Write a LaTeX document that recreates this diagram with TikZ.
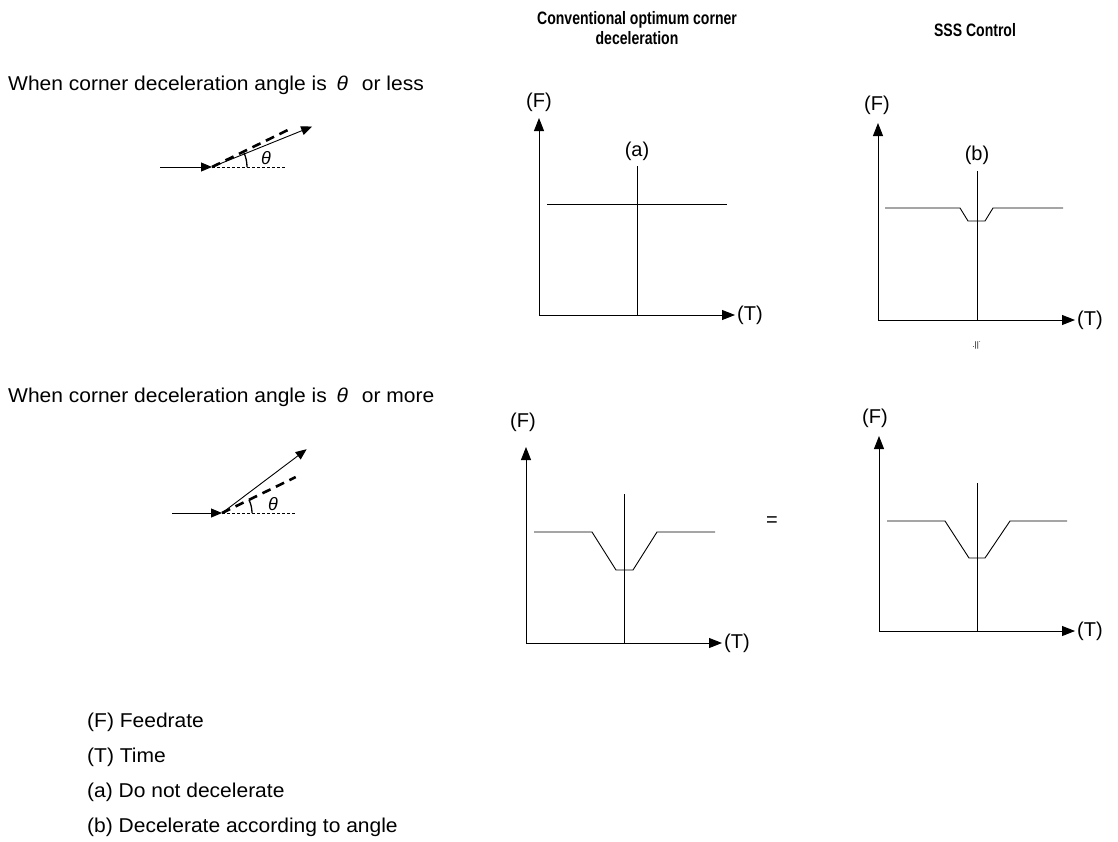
\documentclass[tikz,border=0pt]{standalone}
\usepackage{fontspec}
\setmainfont{Liberation Sans}
\newfontfamily\headfont[FakeStretch=0.78]{Liberation Sans}
\newfontfamily\bodyfont[FakeStretch=1.05]{Liberation Sans}
\usetikzlibrary{positioning,arrows.meta}

\begin{document}
\begin{tikzpicture}[
    x=1pt, y=-1pt,
    txt/.style={font=\bodyfont\fontsize{20}{22}\selectfont, inner sep=0pt, anchor=west},
    head/.style={font=\headfont\bfseries\fontsize{18}{20}\selectfont, align=center, inner sep=0pt},
    lbl/.style={font=\fontsize{20}{22}\selectfont, inner sep=0pt},
    ang/.style={font=\itshape\fontsize{18}{20}\selectfont, inner sep=0pt},
    thinline/.style={line width=0.9pt},
    axis/.style={-{Triangle[length=13pt,width=10pt]}, line width=0.9pt},
    arr/.style={-{Triangle[length=11pt,width=9pt]}, line width=0.9pt},
    refline/.style={dashed, dash pattern=on 3pt off 2pt, line width=0.8pt},
    limit/.style={line width=2.6pt, dash pattern=on 9pt off 6pt}
]
\useasboundingbox (0,0) rectangle (1118,841);

% column headers
\node[head] (hconv) at (637,28) {Conventional optimum corner\\deceleration};
\node[head] (hsss) at (975,30) {SSS Control};

% row 1: angle theta or less
\node[txt] (row1) at (8,85) {When corner deceleration angle is\hspace{4pt} {\itshape θ}\hspace{8pt} or less};
\coordinate (c1) at (212,167);
\coordinate (in1) at (160,167);
\draw[arr] (in1) -- (c1);
\draw[refline] (c1) -- ++(73,0) coordinate (h1);
\draw[limit] (c1) -- ++(-26:84) coordinate (d1);
\draw[arr] (c1) -- ++(-22:108) coordinate (s1);
\draw[thinline, line width=1.3pt] (c1) ++(35,0) arc[start angle=0, end angle=-24, radius=35];
\node[ang] (th1) at (266,158) {θ};

% graph (a)
\coordinate (o1) at (539,315);
\draw[axis] (o1) -- (539,118) coordinate (f1);
\draw[axis] (o1) -- (735,315) coordinate (t1);
\node[lbl] (F1) at (539,102) {(F)};
\node[lbl, anchor=west] (T1) at (737,315) {(T)};
\coordinate (m1) at (637,166);
\draw[thinline] (m1) -- (m1 |- o1);
\node[lbl] (a1) at (637,151) {(a)};
\draw[thinline] (547,204) -- (727,204);

% graph (b)
\coordinate (o2) at (878,320);
\draw[axis] (o2) -- (878,123) coordinate (f2);
\draw[axis] (o2) -- (1075,320) coordinate (t2);
\node[lbl] (F2) at (877,105) {(F)};
\node[lbl, anchor=west] (T2) at (1077,320) {(T)};
\coordinate (m2) at (977,171);
\draw[thinline] (m2) -- (m2 |- o2);
\node[lbl] (b2) at (977,155) {(b)};
\draw[thinline] (885,208) -- (960,208) -- (968,221) -- (985,221) -- (993,208) -- (1063,208);
\node[font=\fontsize{8}{8}\selectfont, inner sep=0pt] (mark) at (977,345) {.||˙};

% row 2: angle theta or more
\node[txt] (row2) at (8,397) {When corner deceleration angle is\hspace{4pt} {\itshape θ}\hspace{8pt} or more};
\coordinate (c2) at (222,513);
\coordinate (in2) at (172,513);
\draw[arr] (in2) -- (c2);
\draw[refline] (c2) -- ++(73,0) coordinate (h2);
\draw[limit] (c2) -- ++(-26:82) coordinate (d2);
\draw[arr] (c2) -- ++(-37:106) coordinate (s2);
\draw[thinline, line width=1.3pt] (c2) ++(30,0) arc[start angle=0, end angle=-26, radius=30];
\node[ang] (th2) at (273,504) {θ};

% graph conventional, large angle
\coordinate (o3) at (526,643);
\draw[axis] (o3) -- (526,447) coordinate (f3);
\draw[axis] (o3) -- (722,643) coordinate (t3);
\node[lbl] (F3) at (523,422) {(F)};
\node[lbl, anchor=west] (T3) at (724,643) {(T)};
\coordinate (m3) at (624,494);
\draw[thinline] (m3) -- (m3 |- o3);
\draw[thinline] (534,532) -- (592,532) -- (616,570) -- (633,570) -- (657,532) -- (715,532);
\node[lbl] (eq) at (772,522) {=};

% graph SSS, large angle
\coordinate (o4) at (879,631);
\draw[axis] (o4) -- (879,436) coordinate (f4);
\draw[axis] (o4) -- (1075,631) coordinate (t4);
\node[lbl] (F4) at (875,418) {(F)};
\node[lbl, anchor=west] (T4) at (1077,631) {(T)};
\coordinate (m4) at (977,483);
\draw[thinline] (m4) -- (m4 |- o4);
\draw[thinline] (887,521) -- (945,521) -- (969,558) -- (985,558) -- (1010,521) -- (1067,521);

% legend
\node[txt] (legF) at (87,722) {(F) Feedrate};
\node[txt, below=16pt of legF.south west, anchor=north west] (legT) {(T) Time};
\node[txt, below=16pt of legT.south west, anchor=north west] (lega) {(a) Do not decelerate};
\node[txt, below=16pt of lega.south west, anchor=north west] (legb) {(b) Decelerate according to angle};
\end{tikzpicture}
\end{document}
